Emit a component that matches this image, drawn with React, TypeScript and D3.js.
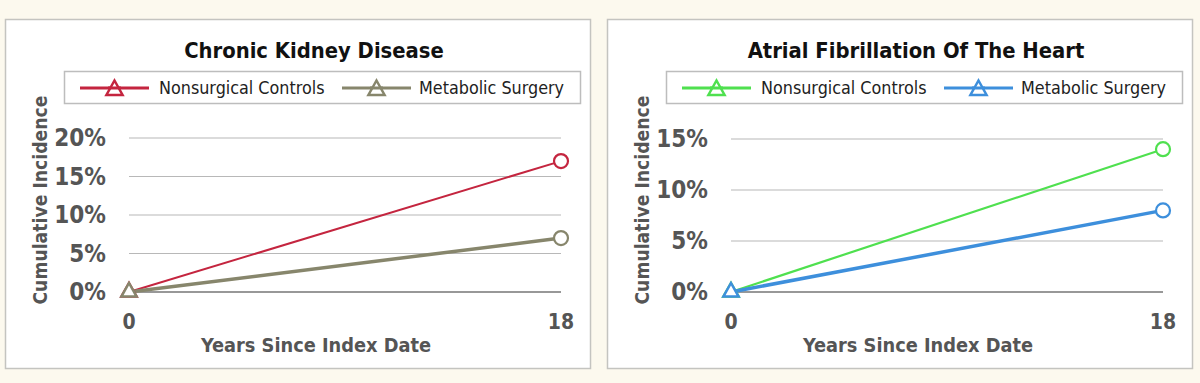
import React from "react";
import * as d3 from "d3";

const years = [0, 18];
const ckdNonsurgical = [0, 0.17];
const ckdMetabolic = [0, 0.07];
const afNonsurgical = [0, 0.14];
const afMetabolic = [0, 0.08];
const ckdTicks = [0, 0.05, 0.1, 0.15, 0.2];
const afTicks = [0, 0.05, 0.1, 0.15];
const xTicks = [0, 18];
const seriesNames = ["Nonsurgical Controls", "Metabolic Surgery"];

const FONT = "'DejaVu Sans Condensed', 'DejaVu Sans', sans-serif";

type Series = { name: string; values: number[]; color: string; width: number };

function Panel({ left, title, series, ticks, yMax, yTop }: { left: number; title: string; series: Series[]; ticks: number[]; yMax: number; yTop: number }) {
  const W = 585;
  const top = 19;
  const H = 349;
  const x = d3.scaleLinear().domain([0, 18]).range([124, 556]);
  const y = d3.scaleLinear().domain([0, yMax]).range([292, yTop]);
  const line = (vals: number[]) =>
    d3.line<number>().x((_, i) => x(years[i])).y((v) => y(v))(vals) as string;
  const tri = (cx: number, cy: number, r: number) =>
    `M${cx},${cy - r}L${cx + r * 0.95},${cy + r * 0.7}L${cx - r * 0.95},${cy + r * 0.7}Z`;
  const legendItems = [
    { x0: 75, tx: 154 },
    { x0: 337, tx: 414 },
  ];
  return (
    <g transform={`translate(${left},0)`}>
      <rect x={0.5} y={top + 0.5} width={W} height={H} fill="#ffffff" stroke="#c4c4c0" strokeWidth={1.5} />
      <text x={309} y={58} textAnchor="middle" fontFamily={FONT} fontWeight="bold" fontSize={21.8} fill="#111">
        {title}
      </text>
      <rect x={59.5} y={71.5} width={516} height={32} fill="#fff" stroke="#bdbdbd" strokeWidth={1.5} />
      {series.map((s, i) => {
        const L = legendItems[i];
        return (
          <g key={s.name}>
            <line x1={L.x0} x2={L.x0 + 69} y1={88} y2={88} stroke={s.color} strokeWidth={3} />
            <path d={tri(L.x0 + 34.5, 89, 8.5)} fill="#fff" stroke={s.color} strokeWidth={2.5} />
            <line x1={L.x0 + 28} x2={L.x0 + 41} y1={88} y2={88} stroke={s.color} strokeWidth={3} />
            <text x={L.tx} y={94} fontFamily={FONT} fontSize={17.8} fill="#222">
              {s.name}
            </text>
          </g>
        );
      })}
      {ticks.map((t) => (
        <g key={t}>
          <line x1={x(0)} x2={x(18)} y1={y(t)} y2={y(t)} stroke={t === 0 ? "#333" : "#b8b8b8"} strokeWidth={1.2} />
          <text x={101} y={y(t) + 8} textAnchor="end" fontFamily={FONT} fontWeight="bold" fontSize={24} fill="#555">
            {d3.format(".0%")(t)}
          </text>
        </g>
      ))}
      {xTicks.map((t) => (
        <text key={t} x={x(t)} y={329} textAnchor="middle" fontFamily={FONT} fontWeight="bold" fontSize={21} fill="#555">
          {t}
        </text>
      ))}
      <text x={311} y={352} textAnchor="middle" fontFamily={FONT} fontWeight="bold" fontSize={19.8} fill="#555">
        Years Since Index Date
      </text>
      <text transform={`translate(42,200) rotate(-90)`} textAnchor="middle" fontFamily={FONT} fontWeight="bold" fontSize={19.2} fill="#555">
        Cumulative Incidence
      </text>
      {series.map((s) => (
        <path key={s.name} d={line(s.values)} fill="none" stroke={s.color} strokeWidth={s.width} />
      ))}
      {series.map((s) => (
        <g key={s.name + "m"}>
          <path d={tri(x(years[0]), y(s.values[0]) - 1, 8)} fill="#fff" stroke={s.color} strokeWidth={2.5} />
          <circle cx={x(years[1])} cy={y(s.values[1])} r={7} fill="#fff" stroke={s.color} strokeWidth={2.2} />
        </g>
      ))}
    </g>
  );
}

export default function App() {
  const ckd: Series[] = [
    { name: seriesNames[0], values: ckdNonsurgical, color: "#c4253f", width: 2 },
    { name: seriesNames[1], values: ckdMetabolic, color: "#87866c", width: 3.5 },
  ];
  const af: Series[] = [
    { name: seriesNames[0], values: afNonsurgical, color: "#4fe04f", width: 2.2 },
    { name: seriesNames[1], values: afMetabolic, color: "#3d8fdc", width: 3.5 },
  ];
  return (
    <svg width={1200} height={383} style={{ position: "absolute", left: 0, top: 0, background: "#fcf9ee" }}>
      <rect width={1200} height={383} fill="#fcf9ee" />
      <Panel left={5} title="Chronic Kidney Disease" series={ckd} ticks={ckdTicks} yMax={0.2} yTop={138} />
      <Panel left={607} title="Atrial Fibrillation Of The Heart" series={af} ticks={afTicks} yMax={0.15} yTop={139} />
    </svg>
  );
}
